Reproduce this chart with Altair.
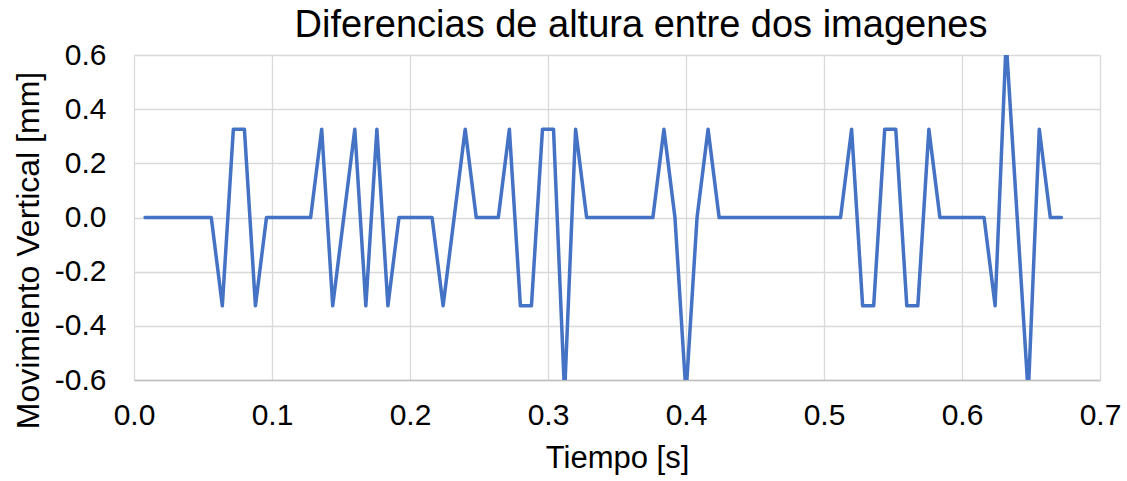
import altair as alt
import pandas as pd

# Sample times [s] (one frame every 0.008 s)
tiempo = [
    0.008, 0.016, 0.024, 0.032, 0.040, 0.048, 0.056, 0.064, 0.072, 0.080,
    0.088, 0.096, 0.104, 0.112, 0.120, 0.128, 0.136, 0.144, 0.152, 0.160,
    0.168, 0.176, 0.184, 0.192, 0.200, 0.208, 0.216, 0.224, 0.232, 0.240,
    0.248, 0.256, 0.264, 0.272, 0.280, 0.288, 0.296, 0.304, 0.312, 0.320,
    0.328, 0.336, 0.344, 0.352, 0.360, 0.368, 0.376, 0.384, 0.392, 0.400,
    0.408, 0.416, 0.424, 0.432, 0.440, 0.448, 0.456, 0.464, 0.472, 0.480,
    0.488, 0.496, 0.504, 0.512, 0.520, 0.528, 0.536, 0.544, 0.552, 0.560,
    0.568, 0.576, 0.584, 0.592, 0.600, 0.608, 0.616, 0.624, 0.632, 0.640,
    0.648, 0.656, 0.664, 0.672,
]

# Vertical displacement between consecutive images [mm]
movimiento = [
    0, 0, 0, 0, 0, 0, 0, -0.326, 0.326, 0.326,
    -0.326, 0, 0, 0, 0, 0, 0.326, -0.326, 0, 0.326,
    -0.326, 0.326, -0.326, 0, 0, 0, 0, -0.326, 0, 0.326,
    0, 0, 0, 0.326, -0.326, -0.326, 0.326, 0.326, -0.652, 0.326,
    0, 0, 0, 0, 0, 0, 0, 0.326, 0, -0.652,
    0, 0.326, 0, 0, 0, 0, 0, 0, 0, 0,
    0, 0, 0, 0, 0.326, -0.326, -0.326, 0.326, 0.326, -0.326,
    -0.326, 0.326, 0, 0, 0, 0, 0, -0.326, 0.652, 0,
    -0.652, 0.326, 0, 0,
]

x_ticks = [0.0, 0.1, 0.2, 0.3, 0.4, 0.5, 0.6, 0.7]
y_ticks = [-0.6, -0.4, -0.2, 0.0, 0.2, 0.4, 0.6]

df = pd.DataFrame({"t": tiempo, "dy": movimiento})

FONT = "Liberation Sans"
label_expr = "(datum.value < 0 ? '-' : '') + format(abs(datum.value), '.1f')"

line = alt.Chart(df).mark_line(
    color="#4472C4", strokeWidth=3.5, clip=True,
    strokeJoin="round", strokeCap="round",
).encode(
    x=alt.X(
        "t:Q",
        scale=alt.Scale(domain=[0, 0.7], nice=False, zero=False),
        axis=alt.Axis(
            values=x_ticks, title="Tiempo [s]", labelExpr=label_expr,
            tickSize=0, labelPadding=20, titlePadding=13, labelFlush=False,
            domain=True, domainColor="#bfbfbf", domainWidth=1.5,
            grid=True, gridColor="#d9d9d9", gridWidth=1.3,
            labelFont=FONT, labelFontSize=30, labelColor="#000000",
            titleFont=FONT, titleFontSize=31, titleFontWeight="normal", titleColor="#000000",
        ),
    ),
    y=alt.Y(
        "dy:Q",
        scale=alt.Scale(domain=[-0.6, 0.6], nice=False, zero=False),
        axis=alt.Axis(
            values=y_ticks, title="Movimiento Vertical [mm]", labelExpr=label_expr,
            tickSize=0, labelPadding=28, domain=False,
            grid=True, gridColor="#d9d9d9", gridWidth=1.3,
            labelFont=FONT, labelFontSize=30, labelColor="#000000",
            titleFont=FONT, titleFontSize=32, titleFontWeight="normal", titleColor="#000000",
            titleX=-106, titleY=195, titleAlign="center", titleBaseline="middle",
        ),
    ),
)

chart = line.properties(
    width=966,
    height=325,
    background="#ffffff",
    title=alt.TitleParams(
        "Diferencias de altura entre dos imagenes",
        font=FONT, fontSize=38, fontWeight="normal", color="#000000",
        anchor="middle", frame="group", dx=24, offset=-5,
    ),
    autosize=alt.AutoSizeParams(type="none"),
    padding={"left": 134, "top": 55, "right": 27, "bottom": 101},
).configure_view(
    stroke=None
)

chart.save("out.html", embed_options={"renderer": "svg", "actions": False})
